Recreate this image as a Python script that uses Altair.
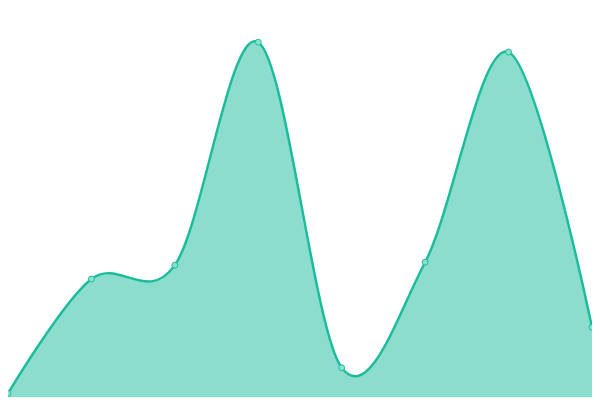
import altair as alt
import pandas as pd

idx = [0, 1, 2, 3, 4, 5, 6, 7]
values = [4, 120, 134, 360, 30, 137, 350, 71]

df = pd.DataFrame({"i": idx, "v": values})

x = alt.X("i:Q", axis=None, scale=alt.Scale(domain=[0, 7], nice=False, zero=False))
y = alt.Y("v:Q", axis=None, scale=alt.Scale(domain=[0, 392], nice=False))

base = alt.Chart(df).encode(x=x, y=y)

area = base.mark_area(interpolate="cardinal", color="#1abc9c", opacity=0.5)
line = base.mark_line(interpolate="cardinal", color="#1abc9c", strokeWidth=2.5)
pts = base.mark_point(filled=False, shape="circle", size=36, stroke="#1abc9c",
                      fill="#8ce0d0", fillOpacity=1, strokeWidth=1, opacity=1)

chart = (area + line + pts).properties(
    width=592, height=392, padding=0, background="white",
    autosize=alt.AutoSizeParams(type="none")
).configure_view(strokeWidth=0, stroke=None)

chart.save("out.html", embed_options={"renderer": "svg", "actions": False})
